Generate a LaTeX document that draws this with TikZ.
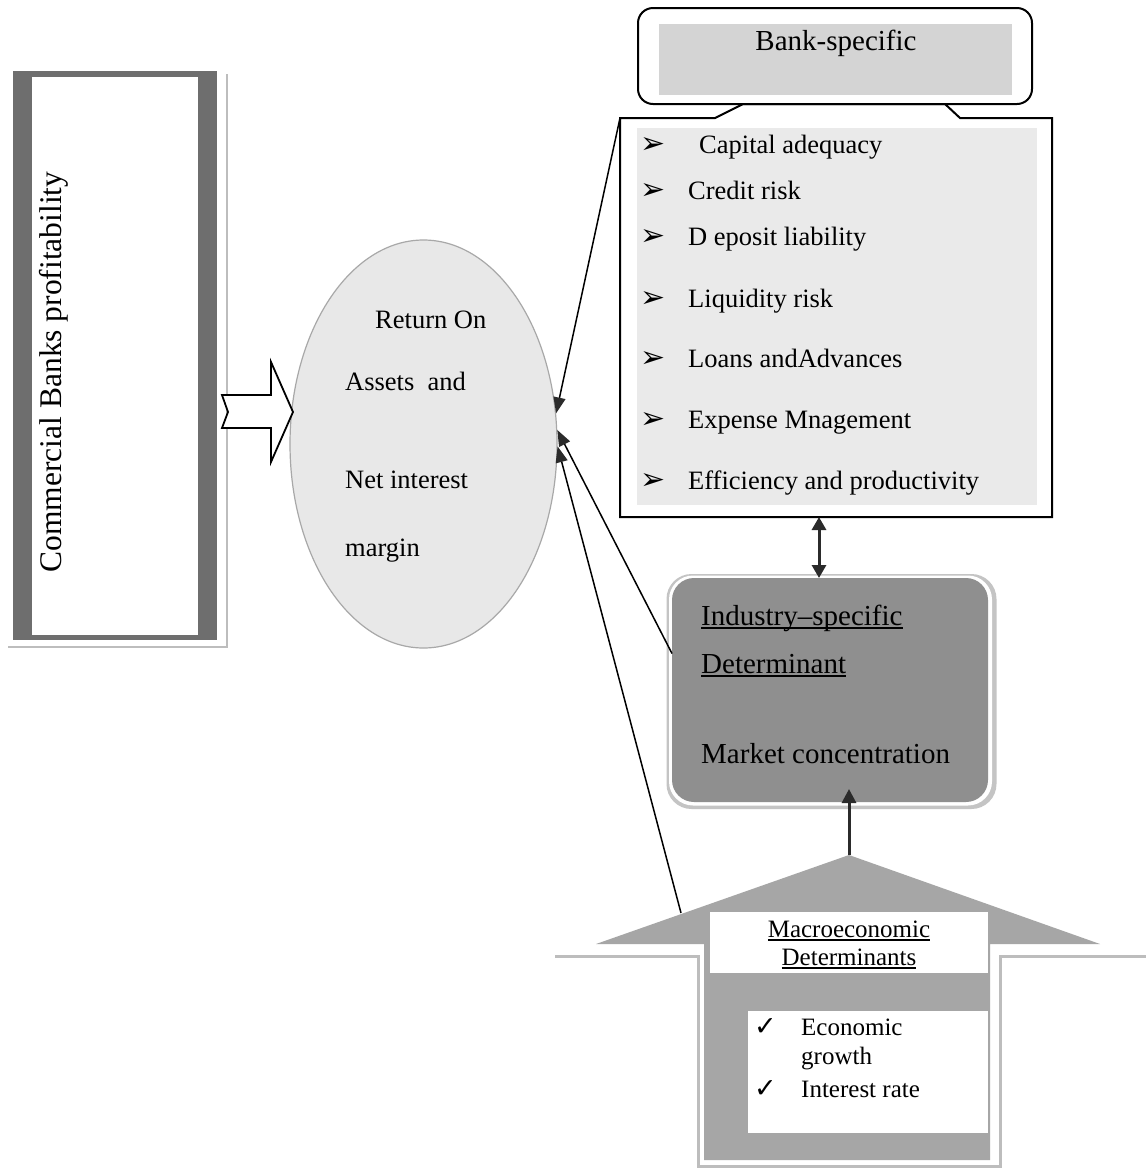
\documentclass[tikz,border=0pt]{standalone}
\usepackage{fontspec}
\setmainfont{Liberation Serif}
\newfontfamily\symfont{DejaVu Sans}
\usetikzlibrary{arrows.meta,shapes.geometric}
\definecolor{framegray}{HTML}{6E6E6E}
\definecolor{shadowgray}{HTML}{BDBDBD}
\definecolor{ellfill}{HTML}{E8E8E8}
\definecolor{ellline}{HTML}{A8A8A8}
\definecolor{listfill}{HTML}{EAEAEA}
\definecolor{headfill}{HTML}{D4D4D4}
\definecolor{indfill}{HTML}{8F8F8F}
\definecolor{indshadow}{HTML}{C4C4C4}
\definecolor{macrofill}{HTML}{A6A6A6}
\definecolor{tipgray}{HTML}{2B2B2B}
\newcommand\myul[1]{\setbox0\hbox{#1}\rlap{\rule[-3.5pt]{\wd0}{1.4pt}}\box0}
\begin{document}
\begin{tikzpicture}[x=1pt,y=-1pt,
  box/.style={inner sep=0,outer sep=0},
  listtxt/.style={anchor=base west,inner sep=0,font=\fontsize{26.5}{30}\selectfont},
  bulletsym/.style={anchor=west,inner sep=0,font=\symfont\fontsize{30}{32}\selectfont},
  elltxt/.style={anchor=base west,inner sep=0,font=\fontsize{26.5}{30}\selectfont},
  indtxt/.style={anchor=base west,inner sep=0,font=\fontsize{29}{32}\selectfont},
  macrotxt/.style={inner sep=0,font=\fontsize{25}{28}\selectfont},
  checksym/.style={anchor=base west,inner sep=0,font=\symfont\fontsize{27}{30}\selectfont},
  conn/.style={line width=1.5pt,-{Triangle[length=16pt,width=12pt,color=tipgray]}},
  dblarr/.style={line width=3pt,color=tipgray,{Triangle[length=13pt,width=14pt]}-{Triangle[length=13pt,width=14pt]}},
  uparr/.style={line width=3pt,color=tipgray,-{Triangle[length=14pt,width=14pt]}}]
\useasboundingbox[fill=white] (0,0) rectangle (1146,1168);

% ---- left box: Commercial Banks profitability
\draw[shadowgray,line width=2.5pt] (227,74) -- (227,647) -- (8,647);
\node[box,fill=framegray,minimum width=204,minimum height=569] (cbp) at (115,355.5) {};
\node[box,fill=white,minimum width=166,minimum height=558] (cbpin) at (115,355.5) {};
\node[rotate=90,inner sep=0,font=\fontsize{31.5}{34}\selectfont] (cbptxt) at (54,372) {Commercial Banks profitability};

% ---- ellipse
\node[ellipse,draw=ellline,line width=1.2pt,fill=ellfill,minimum width=267,minimum height=408,inner sep=0] (roa) at (423.5,444) {};
\node[elltxt] (t1) at (375,328) {Return On};
\node[elltxt] (t2) at (345,390) {Assets\hspace{0.5em}and};
\node[elltxt] (t3) at (345,488) {Net interest};
\node[elltxt] (t4) at (345,556) {margin};

% ---- block arrow
\draw[line width=1.8pt,fill=white,line join=miter] (222,395) -- (271,395) -- (271,362) -- (293,412) -- (271,462) -- (271,428) -- (222,428) -- (228,412) -- cycle;

% ---- bank-specific callout
\draw[line width=2pt,fill=white] (620,118) -- (715,118) -- (743,104) -- (945,104) -- (960,118) -- (1052,118) -- (1052,517) -- (620,517) -- cycle;
\node[box,minimum width=432,minimum height=399] (bank) at (836,317.5) {};
\node[box,fill=listfill,minimum width=400,minimum height=377] (banklist) at (837,316.5) {};
\node[box,draw,line width=2pt,fill=white,rounded corners=15,minimum width=394,minimum height=96] (bshead) at (835,56) {};
\node[box,fill=headfill,minimum width=353,minimum height=71] (bsheadin) at (835.5,59.5) {};
\node[inner sep=0,anchor=base,font=\fontsize{29}{32}\selectfont] (bstitle) at (836,50) {Bank-specific};

\node[bulletsym] (b1) at (640,145) {➢};
\node[bulletsym] (b2) at (640,191) {➢};
\node[bulletsym] (b3) at (640,237) {➢};
\node[bulletsym] (b4) at (640,299) {➢};
\node[bulletsym] (b5) at (640,359) {➢};
\node[bulletsym] (b6) at (640,420) {➢};
\node[bulletsym] (b7) at (640,481) {➢};
\node[listtxt] (l1) at (699,153) {Capital adequacy};
\node[listtxt] (l2) at (688,199) {Credit risk};
\node[listtxt] (l3) at (688,245) {D eposit liability};
\node[listtxt] (l4) at (688,307) {Liquidity risk};
\node[listtxt] (l5) at (688,367) {Loans andAdvances};
\node[listtxt] (l6) at (688,428) {Expense Mnagement};
\node[listtxt] (l7) at (688,489) {Efficiency and productivity};

% ---- industry-specific box
\node[box,fill=indshadow,rounded corners=25,minimum width=330,minimum height=235] (indsh) at (831.5,691.5) {};
\node[box,fill=white,rounded corners=24,minimum width=323,minimum height=230] (indwh) at (830.5,690.5) {};
\node[box,fill=indfill,rounded corners=22,minimum width=316,minimum height=224] (ind) at (830,690) {};
\node[indtxt] (i1) at (701,625) {\myul{Industry–specific}};
\node[indtxt] (i2) at (701,673) {\myul{Determinant}};
\node[indtxt] (i3) at (701,763) {Market concentration};

% ---- macroeconomic block arrow
\draw[shadowgray,line width=3pt] (555,956) -- (698,956) -- (698,1166) -- (1000,1166) -- (1000,956) -- (1146,956);
\coordinate (mtip) at (849,855);
\coordinate (mtail) at (681,913);
\fill[macrofill] (mtip) -- (1100,944) -- (990,944) -- (990,1160) -- (704,1160) -- (704,944) -- (596,944) -- cycle;
\node[box,fill=white,minimum width=278,minimum height=61] (mhead) at (849,942.5) {};
\node[macrotxt,anchor=base] (m1) at (849,937) {\myul{Macroeconomic}};
\node[macrotxt,anchor=base] (m2) at (849,965) {\myul{Determinants}};
\node[box,fill=white,minimum width=240,minimum height=122] (mlist) at (868,1072) {};
\node[checksym] (c1) at (754,1035) {✓};
\node[checksym] (c2) at (754,1097) {✓};
\node[macrotxt,anchor=base west] (e1) at (801,1035) {Economic};
\node[macrotxt,anchor=base west] (e2) at (801,1064) {growth};
\node[macrotxt,anchor=base west] (e3) at (801,1097) {Interest rate};

% ---- connectors
\coordinate (dax) at (819,0);
\draw[dblarr] (bank.south -| dax) -- (ind.north -| dax);
\coordinate (indb) at (mtip |- ind.south);
\draw[uparr] (mtip) -- ([yshift=13pt]indb);
\draw[conn] (bank.north west) -- (roa.13);
\draw[conn] (ind.167) -- (roa.6);
\draw[conn] (mtail) -- (roa.-1);
\end{tikzpicture}
\end{document}
